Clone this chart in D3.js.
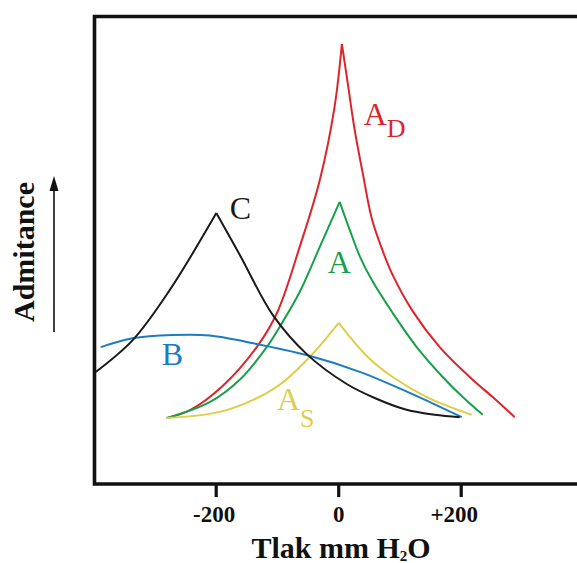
<!DOCTYPE html>
<html>
<head>
<meta charset="utf-8">
<script src="https://cdn.jsdelivr.net/npm/d3@7"></script>
<style>
  html, body { margin: 0; padding: 0; background: #ffffff; }
  svg { display: block; }
</style>
</head>
<body>
<svg id="chart" width="577" height="563"></svg>
<script>
// ---- data (pressure in mm H2O, admittance in arbitrary units) ----
const tickValues = [-200, 0, 200];
const tickLabels = ["-200", "0", "+200"];

const adPressure   = [-280, -242, -190, -133, -100, -63, -30, -6, 6, 15.5, 26.9, 40, 54.7, 71.0, 87.3, 121.6, 165.7, 214.6, 252.2, 288.2];
const adAdmittance = [13.9, 15.6, 20.6, 29.1, 36.4, 50.5, 64.9, 80.5, 94.0, 85.7, 75.6, 66.4, 56.7, 50.3, 45.0, 36.8, 29.1, 22.7, 18.4, 14.1];

const aPressure   = [-280, -209.8, -160.8, -116.7, -90.6, -62.9, -30.2, 2.4, 18.8, 35.1, 54.7, 89.0, 128.2, 170.6, 203.3, 236.0];
const aAdmittance = [13.9, 17.3, 22.1, 29.1, 34.5, 40.9, 50.5, 60.2, 54.2, 48.6, 43.5, 36.4, 29.1, 22.7, 18.4, 14.6];

const asPressure   = [-280, -182, -100.4, -46.5, 0.8, 48.2, 89.0, 144.5, 218.0];
const asAdmittance = [13.9, 15.6, 20.6, 27.0, 34.3, 27.0, 22.7, 18.4, 14.6];

const bPressure   = [-387.8, -335.5, -270.2, -209.8, -149.4, -51.4, 35.1, 116.7, 201.6];
const bAdmittance = [29.1, 31.0, 31.7, 31.6, 30.2, 27.4, 23.8, 19.3, 14.1];

const cPressure   = [-397.6, -335.5, -275.1, -199, -160.8, -106.9, -51.4, 13.9, 59.6, 108.6, 157.6, 198.4];
const cAdmittance = [23.6, 30.6, 41.3, 57.8, 48.9, 36.0, 27.6, 21.2, 18.2, 15.8, 14.6, 14.1];

const seriesNames  = ["AD", "A", "AS", "B", "C"];
const seriesColors = ["#dc252b", "#17a04a", "#e0cd4a", "#1b7dc0", "#1a1a1a"];

// ---- scales ----
const svg = d3.select("#chart");
const x = d3.scaleLinear().domain([-200, 200]).range([215.7, 460.7]);
const y = d3.scaleLinear().domain([0, 100]).range([483, 16]);

const series = [
  { name: "AD", p: adPressure, v: adAdmittance, cusp: true },
  { name: "A",  p: aPressure,  v: aAdmittance,  cusp: true },
  { name: "AS", p: asPressure, v: asAdmittance, cusp: true },
  { name: "B",  p: bPressure,  v: bAdmittance,  cusp: false },
  { name: "C",  p: cPressure,  v: cAdmittance,  cusp: true }
];

const line = d3.line().x(d => x(d[0])).y(d => y(d[1])).curve(d3.curveCatmullRom.alpha(0.5));

// ---- curves ----
const gCurves = svg.append("g").attr("fill", "none").attr("stroke-width", 2);
series.forEach((s) => {
  const pts = s.p.map((p, k) => [p, s.v[k]]);
  const color = seriesColors[seriesNames.indexOf(s.name)];
  if (s.cusp) {
    const iMax = d3.maxIndex(s.v);
    [pts.slice(0, iMax + 1), pts.slice(iMax)].forEach(branch => {
      gCurves.append("path").attr("d", line(branch)).attr("stroke", color);
    });
  } else {
    gCurves.append("path").attr("d", line(pts)).attr("stroke", color);
  }
});

// ---- frame ----
svg.append("path")
  .attr("d", `M600,${y(100) + 0.5} L94.5,${y(100) + 0.5} L94.5,484 L600,484`)
  .attr("fill", "none").attr("stroke", "#111").attr("stroke-width", 3.6);

// ---- x axis ----
const xAxis = d3.axisBottom(x)
  .tickValues(tickValues)
  .tickFormat((d, i) => tickLabels[i])
  .tickSize(12)
  .tickPadding(9);
const gx = svg.append("g").attr("transform", "translate(0,485)").call(xAxis);
gx.select(".domain").remove();
gx.selectAll(".tick line").attr("stroke", "#111").attr("stroke-width", 3.2);
gx.selectAll(".tick text")
  .attr("fill", "#111")
  .style("font-family", "'Liberation Serif', 'Times New Roman', serif")
  .style("font-weight", "bold")
  .style("font-size", "23px");
gx.selectAll(".tick text").filter((d) => d > 0).attr("dx", -7);
gx.selectAll(".tick text").filter((d) => d < 0).attr("dx", -2);

// ---- x title ----
const xt = svg.append("text")
  .attr("x", 341).attr("y", 558)
  .attr("text-anchor", "middle")
  .attr("fill", "#111")
  .style("font-family", "'Liberation Serif', 'Times New Roman', serif")
  .style("font-weight", "bold")
  .style("font-size", "30px");
xt.append("tspan").text("Tlak mm H");
xt.append("tspan").text("2").style("font-size", "15px").attr("dy", 3);
xt.append("tspan").text("O").attr("dy", -3);

// ---- y title ----
svg.append("text")
  .attr("transform", "translate(34,252) rotate(-90)")
  .attr("text-anchor", "middle")
  .attr("fill", "#111")
  .style("font-family", "'Liberation Serif', 'Times New Roman', serif")
  .style("font-weight", "bold")
  .style("font-size", "30px")
  .text("Admitance");

// arrow
svg.append("line").attr("x1", 54).attr("x2", 54).attr("y1", 332).attr("y2", 190)
  .attr("stroke", "#111").attr("stroke-width", 1.6);
svg.append("path").attr("d", "M54,176 L49.5,191 L58.5,191 Z").attr("fill", "#111");

// ---- curve labels ----
const labelText   = ["A", "A", "A", "B", "C"];
const labelSub    = ["D", "", "S", "", ""];
const labelSubDy  = [12, 0, 17, 0, 0];
const labelP      = [41.6, -17, -100, -288, -177];
const labelV      = [76.7, 45.0, 15.6, 25.3, 56.5];

const gLabels = svg.append("g")
  .style("font-family", "'Liberation Serif', 'Times New Roman', serif")
  .style("font-size", "32px");
seriesNames.forEach((n, i) => {
  const t = gLabels.append("text")
    .attr("x", x(labelP[i])).attr("y", y(labelV[i]))
    .attr("fill", seriesColors[i]);
  t.append("tspan").text(labelText[i]);
  if (labelSub[i]) {
    t.append("tspan").text(labelSub[i]).attr("dy", labelSubDy[i]).style("font-size", "26px");
  }
});
</script>
</body>
</html>
